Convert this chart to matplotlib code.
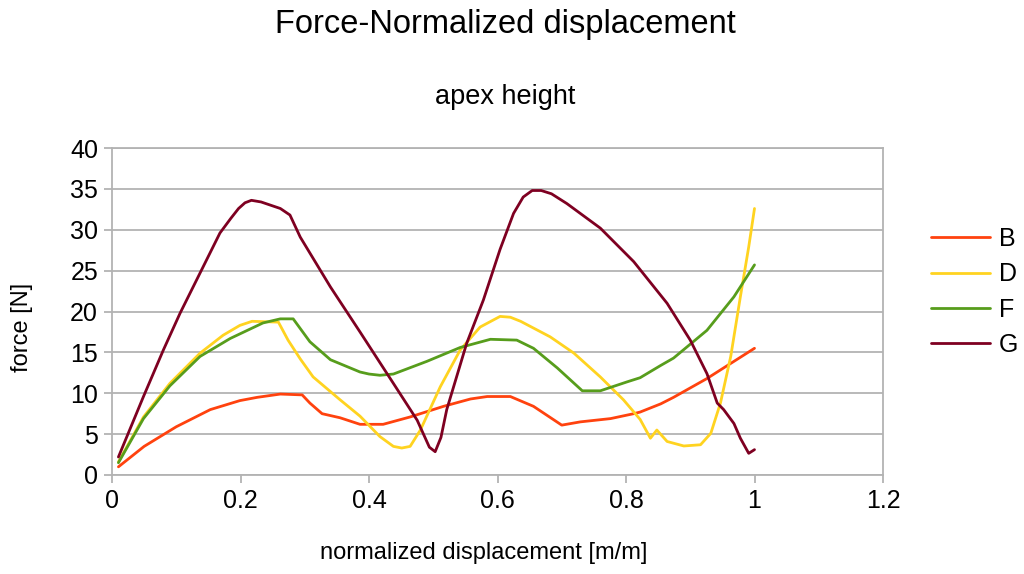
import matplotlib
matplotlib.use("Agg")
import matplotlib.pyplot as plt
from matplotlib.ticker import FuncFormatter

plt.rcParams['font.family'] = ['Liberation Sans', 'DejaVu Sans']

# curves (normalized displacement, force in N)
b_x = [0.01, 0.05, 0.10, 0.153, 0.199, 0.226, 0.262, 0.296, 0.308, 0.327, 0.355,
       0.386, 0.422, 0.464, 0.516, 0.558, 0.584, 0.62, 0.656, 0.70, 0.729, 0.776,
       0.812, 0.822, 0.854, 0.874, 0.926, 0.968, 1.0]
b_y = [1.0, 3.5, 5.9, 8.0, 9.1, 9.5, 9.9, 9.8, 8.8, 7.5, 7.0,
       6.2, 6.2, 7.1, 8.4, 9.3, 9.6, 9.6, 8.4, 6.1, 6.5, 6.9,
       7.5, 7.7, 8.7, 9.5, 11.8, 13.9, 15.5]

d_x = [0.01, 0.049, 0.09, 0.137, 0.173, 0.199, 0.218, 0.259, 0.274, 0.293, 0.313,
       0.355, 0.386, 0.417, 0.438, 0.451, 0.464, 0.48, 0.511, 0.542, 0.573, 0.604,
       0.62, 0.636, 0.682, 0.719, 0.76, 0.796, 0.822, 0.838, 0.848, 0.864, 0.89,
       0.916, 0.932, 0.947, 0.963, 0.978, 0.991, 1.0]
d_y = [1.6, 7.1, 11.2, 14.9, 17.1, 18.3, 18.8, 18.7, 16.5, 14.2, 12.0,
       9.2, 7.2, 4.7, 3.5, 3.3, 3.5, 5.5, 10.8, 15.3, 18.1, 19.4,
       19.3, 18.8, 16.9, 14.9, 12.0, 9.2, 6.8, 4.5, 5.5, 4.1, 3.55,
       3.7, 5.1, 8.8, 14.5, 21.8, 27.9, 32.6]

f_x = [0.01, 0.049, 0.09, 0.137, 0.184, 0.235, 0.262, 0.282, 0.308, 0.34, 0.386,
       0.40, 0.417, 0.438, 0.49, 0.542, 0.589, 0.63, 0.656, 0.693, 0.732, 0.76,
       0.802, 0.822, 0.854, 0.874, 0.926, 0.968, 1.0]
f_y = [1.5, 6.9, 10.9, 14.5, 16.7, 18.6, 19.1, 19.1, 16.3, 14.1, 12.6,
       12.35, 12.2, 12.35, 13.9, 15.6, 16.6, 16.5, 15.5, 13.1, 10.3, 10.3,
       11.4, 11.9, 13.4, 14.3, 17.7, 21.8, 25.7]

g_x = [0.01, 0.049, 0.08, 0.106, 0.137, 0.168, 0.185, 0.197, 0.207, 0.217, 0.232,
       0.262, 0.277, 0.293, 0.34, 0.386, 0.438, 0.475, 0.494, 0.503, 0.512, 0.521,
       0.552, 0.578, 0.604, 0.625, 0.64, 0.654, 0.668, 0.684, 0.708, 0.76, 0.812,
       0.864, 0.90, 0.926, 0.942, 0.952, 0.968, 0.978, 0.991, 1.0]
g_y = [2.2, 9.6, 15.3, 19.8, 24.7, 29.6, 31.4, 32.6, 33.3, 33.6, 33.4,
       32.6, 31.8, 29.1, 23.0, 17.5, 11.2, 6.7, 3.4, 2.85, 4.6, 8.0,
       16.1, 21.4, 27.6, 32.0, 34.0, 34.8, 34.8, 34.4, 33.2, 30.2, 26.1,
       21.0, 16.5, 12.4, 8.8, 8.0, 6.3, 4.5, 2.65, 3.1]

series = [("B", b_x, b_y, "#ff420e"),
          ("D", d_x, d_y, "#ffd320"),
          ("F", f_x, f_y, "#579d1c"),
          ("G", g_x, g_y, "#7e0021")]

x_ticks = [0, 0.2, 0.4, 0.6, 0.8, 1.0, 1.2]
y_ticks = [0, 5, 10, 15, 20, 25, 30, 35, 40]

grid_col = "#b3b3b3"

fig = plt.figure(figsize=(10.24, 5.74), dpi=100)
ax = fig.add_axes([112 / 1024, 1 - 475 / 574, 771 / 1024, 327 / 574])

for name, xs, ys, col in series:
    ax.plot(xs, ys, color=col, lw=2.0, label=name,
            solid_joinstyle="round", solid_capstyle="round")

ax.set_xlim(0, 1.2)
ax.set_ylim(0, 40)
ax.set_xticks(x_ticks)
ax.set_yticks(y_ticks)
ax.xaxis.set_major_formatter(FuncFormatter(lambda v, p: f"{v:g}"))
ax.yaxis.grid(True, color=grid_col, lw=1.3)
ax.set_axisbelow(True)
for s in ax.spines.values():
    s.set_color(grid_col)
    s.set_linewidth(1.3)
ax.tick_params(axis="both", color=grid_col, width=1.3, length=6,
               labelsize=18, pad=4)

fig.text(505 / 1024, 1 - 25 / 574, "Force-Normalized displacement",
         ha="center", va="center", fontsize=23.5)
fig.text(505 / 1024, 1 - 97 / 574, "apex height",
         ha="center", va="center", fontsize=19.5)
fig.text(484 / 1024, 1 - 553 / 574, "normalized displacement [m/m]",
         ha="center", va="center", fontsize=17)
fig.text(22 / 1024, 1 - 327 / 574, "force [N]", rotation=90,
         ha="center", va="center", fontsize=17)

fig.legend(loc="center left", bbox_to_anchor=(931 / 1024, 1 - 292 / 574),
           frameon=False, fontsize=18, handlelength=2.36, handletextpad=0.36,
           labelspacing=0.45, borderpad=0, borderaxespad=0)

fig.savefig("out.png", dpi=100)
